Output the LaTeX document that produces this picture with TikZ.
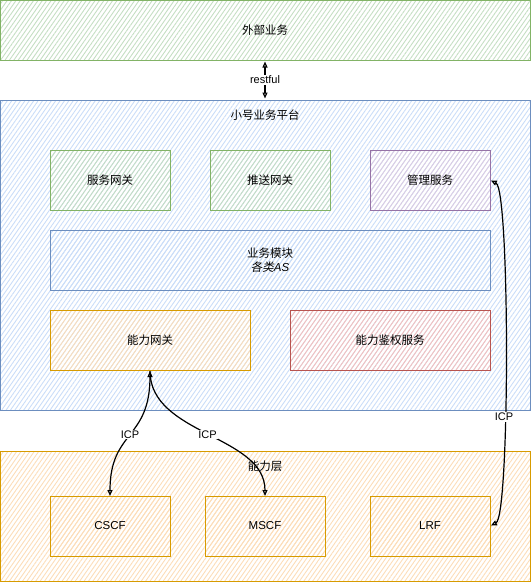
\documentclass[tikz,border=0pt]{standalone}
\usepackage{fontspec}
\setmainfont{Liberation Sans}
\newfontfamily\cjk{Noto Sans CJK SC}
\newfontfamily\cjkit[FakeSlant=0.2]{Noto Sans CJK SC}
\usetikzlibrary{patterns.meta,arrows.meta}
\definecolor{gS}{HTML}{82B366}\definecolor{gF}{HTML}{C5DEC3}
\definecolor{bS}{HTML}{6C8EBF}\definecolor{bF}{HTML}{CADDF8}
\definecolor{pS}{HTML}{9673A6}\definecolor{pF}{HTML}{DCCDE3}
\definecolor{oS}{HTML}{D79B00}\definecolor{oF}{HTML}{FCDDB8}
\definecolor{rS}{HTML}{B85450}\definecolor{rF}{HTML}{F5C0BD}
\tikzset{
  box/.style={draw=#1S, line width=1pt, inner sep=0pt, outer sep=0pt,
    preaction={pattern={Lines[angle=55,distance=3.6pt,line width=0.9pt]}, pattern color=#1F},
    font=\fontsize{11.5}{14}\selectfont\cjk, align=center},
  lbl/.style={fill=white, inner sep=1pt, font=\fontsize{11}{13}\selectfont},
  conn/.style={line width=1.2pt, {Triangle[open,length=6pt,width=5pt]}-{Triangle[open,length=6pt,width=5pt]}},
  oneway/.style={line width=1.2pt, -{Triangle[open,length=6pt,width=5pt]}, shorten <=1pt},
}
\begin{document}
\begin{tikzpicture}[x=1pt,y=-1pt]
\useasboundingbox (0,0) rectangle (531,582);
% outer layers
\path[box=g] (0.5,0.5) rectangle (530,60);
\node[font=\fontsize{11.5}{14}\selectfont\cjk] (ext) at (265,30) {外部业务};
\coordinate (extS) at (265,60);
\path[box=b] (0.5,100) rectangle (530,410);
\node[font=\fontsize{11.5}{14}\selectfont\cjk] (platl) at (265,115) {小号业务平台};
\coordinate (platN) at (265,100);
\path[box=o] (0.5,451) rectangle (530,581);
\node[font=\fontsize{11.5}{14}\selectfont\cjk] (capl) at (265,466) {能力层};
% inner boxes
\node[box=g, minimum width=120pt, minimum height=60pt] (svcgw) at (110,180) {服务网关};
\node[box=g, minimum width=120pt, minimum height=60pt] (pushgw) at (270,180) {推送网关};
\node[box=p, minimum width=120pt, minimum height=60pt] (mgmt) at (430,180) {管理服务};
\node[box=b, minimum width=440pt, minimum height=60pt] (biz) at (270,260) {业务模块\\{\cjkit 各类}{\itshape\fontspec{Liberation Sans}AS}};
\node[box=o, minimum width=200pt, minimum height=60pt] (capgw) at (150,340) {能力网关};
\node[box=r, minimum width=200pt, minimum height=60pt] (auth) at (390,340) {能力鉴权服务};
\node[box=o, minimum width=120pt, minimum height=60pt] (cscf) at (110,526) {\fontspec{Liberation Sans}CSCF};
\node[box=o, minimum width=120pt, minimum height=60pt] (mscf) at (265,526) {\fontspec{Liberation Sans}MSCF};
\node[box=o, minimum width=120pt, minimum height=60pt] (lrf) at (430,526) {\fontspec{Liberation Sans}LRF};
% connectors
\draw[conn, shorten <=1.5pt, shorten >=1.5pt] (extS) -- node[lbl] {restful} (platN);
\draw[conn, shorten <=1pt] (capgw.south) .. controls (150,440) and (110,430) .. node[lbl, pos=0.5] {ICP} (cscf.north);
\draw[oneway] (capgw.south) .. controls (150,435) and (265,435) .. node[lbl] {ICP} (mscf.north);
\draw[conn, shorten <=1pt, shorten >=1pt] (mgmt.east) .. controls (510,190) and (510,516) .. node[lbl, pos=0.63] {ICP} (lrf.east);
\end{tikzpicture}
\end{document}
